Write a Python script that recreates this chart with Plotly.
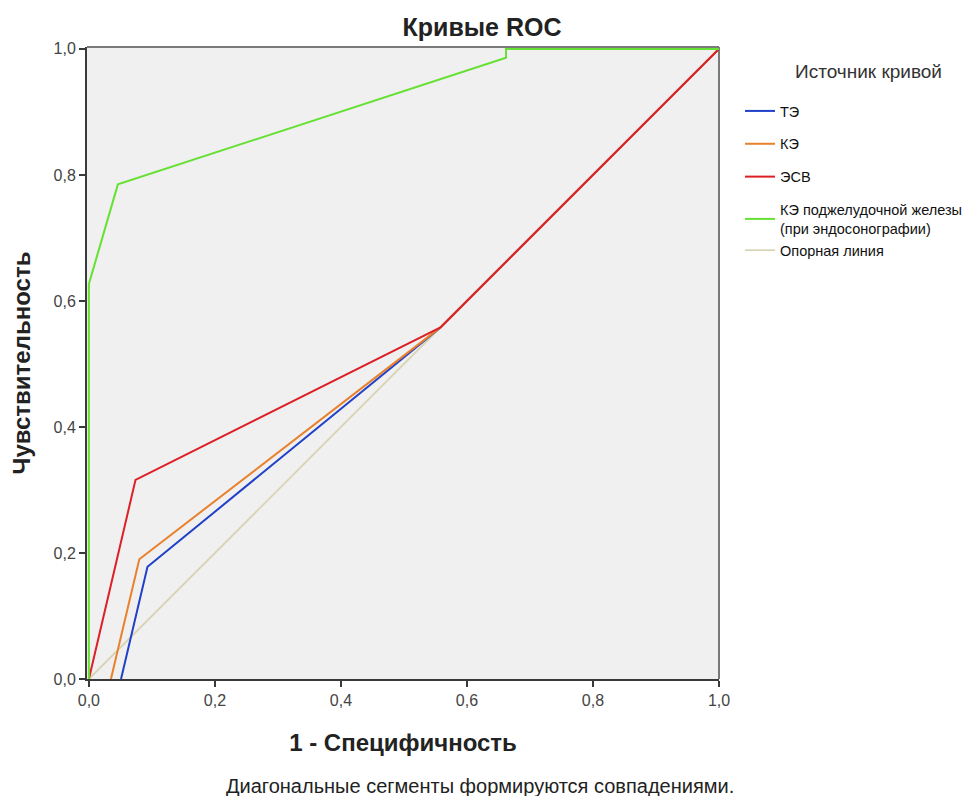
import plotly.graph_objects as go

# Data (1 - specificity, sensitivity)
te_x = [0.051, 0.093, 0.558, 1.0]
te_y = [0.0, 0.178, 0.558, 1.0]
ke_x = [0.035, 0.080, 0.558, 1.0]
ke_y = [0.0, 0.190, 0.558, 1.0]
esv_x = [0.0, 0.074, 0.558, 1.0]
esv_y = [0.0, 0.316, 0.558, 1.0]
pank_x = [0.0, 0.0, 0.046, 0.662, 0.662, 1.0]
pank_y = [0.0, 0.627, 0.785, 0.986, 1.0, 1.0]
ref_x = [0.0, 1.0]
ref_y = [0.0, 1.0]

names = ["ТЭ", "КЭ", "ЭСВ", "КЭ поджелудочной железы<br>(при эндосонографии)", "Опорная линия"]
colors = ["#2040c8", "#e8802c", "#dc2026", "#66e032", "#d8d4b6"]
groups = ["a", "b", "c", "d", "d"]
tick_vals = [0, 0.2, 0.4, 0.6, 0.8, 1.0]
tick_text = ["0,0", "0,2", "0,4", "0,6", "0,8", "1,0"]

FONT = "Liberation Sans, Arial, sans-serif"
OFF = 8  # page body margin
W, H = 977 - 2 * OFF, 804 - 2 * OFF
L, T, PW, PH = 87 - OFF, 47 - OFF, 632, 632


def px(xp):
    return (xp - OFF - L) / PW


def py(yp):
    return 1 - (yp - OFF - T) / PH


fig = go.Figure()
series = [(ref_x, ref_y), (te_x, te_y), (ke_x, ke_y), (esv_x, esv_y), (pank_x, pank_y)]
order = [4, 0, 1, 2, 3]
for (xs, ys), idx in zip(series, order):
    fig.add_trace(go.Scatter(
        x=xs, y=ys, mode="lines", name=names[idx],
        line=dict(color=colors[idx], width=2 if idx != 4 else 1.8),
        legendrank=idx + 1, legendgroup=groups[idx],
    ))

axis_common = dict(
    tickvals=tick_vals, ticktext=tick_text,
    showgrid=False, zeroline=False, showline=True, linecolor="#3a3a3a", linewidth=2,
    ticks="outside", ticklen=6, tickwidth=2, tickcolor="#3a3a3a", layer="below traces",
    tickfont=dict(family=FONT, size=16, color="#444444"),
)
fig.update_xaxes(**axis_common, range=[-0.003, 1.0], title=dict(text="<b>1 - Специфичность</b>",
                 font=dict(family=FONT, size=24, color="#222222"), standoff=26))
fig.update_yaxes(**axis_common, range=[0, 1.003], title=dict(text="<b>Чувствительность</b>",
                 font=dict(family=FONT, size=24, color="#222222"), standoff=17))

# frame on top/right
fig.add_shape(type="line", xref="paper", yref="paper", x0=0, x1=1, y0=1, y1=1,
              line=dict(color="#7a7a7a", width=2), layer="below")
fig.add_shape(type="line", xref="paper", yref="paper", x0=1, x1=1, y0=0, y1=1,
              line=dict(color="#7a7a7a", width=2), layer="below")

fig.update_layout(
    width=W, height=H,
    margin=dict(l=L, r=W - L - PW, t=T, b=H - T - PH, autoexpand=False),
    plot_bgcolor="#f0f0f0", paper_bgcolor="white",
    title=dict(text="<b>Кривые ROC</b>", x=(482 - OFF) / W, xanchor="center",
               y=1 - (27 - OFF) / H, yanchor="middle",
               font=dict(family=FONT, size=25, color="#222222")),
    legend=dict(
        x=px(740), xanchor="left", y=py(95), yanchor="top",
        font=dict(family=FONT, size=14.5, color="#111111"),
        tracegroupgap=11, itemwidth=30, bgcolor="rgba(0,0,0,0)",
    ),
    showlegend=True,
)
fig.add_annotation(text="Источник кривой", xref="paper", yref="paper",
                   x=px(868), y=py(72), xanchor="center", yanchor="middle",
                   showarrow=False, font=dict(family=FONT, size=19, color="#333333"))
fig.add_annotation(text="Диагональные сегменты формируются совпадениями.", xref="paper", yref="paper",
                   x=px(480), y=py(786), xanchor="center", yanchor="middle",
                   showarrow=False, font=dict(family=FONT, size=20, color="#222222"))

fig.write_html("out.html")
